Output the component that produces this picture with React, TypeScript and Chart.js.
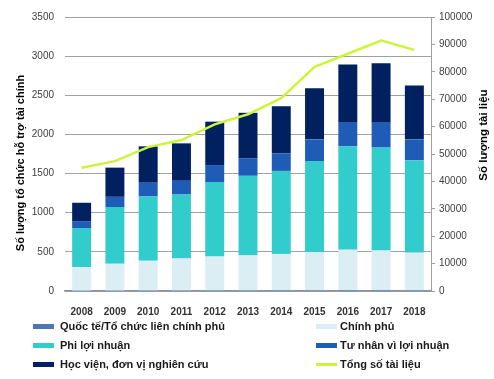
import React, { useEffect, useRef } from "react";
import { Chart, registerables } from "chart.js";

Chart.register(...registerables);

const years = ["2008", "2009", "2010", "2011", "2012", "2013", "2014", "2015", "2016", "2017", "2018"];
const intlOrg = [6, 7, 8, 8, 9, 9, 10, 10, 11, 11, 10];
const government = [300, 341, 378, 407, 431, 446, 464, 485, 517, 505, 480];
const nonProfit = [499, 725, 821, 817, 951, 1016, 1060, 1165, 1320, 1316, 1178];
const forProfit = [88, 130, 176, 176, 218, 226, 226, 277, 302, 318, 269];
const academic = [234, 373, 465, 478, 554, 579, 600, 653, 742, 759, 687];
const totalDocs = [45000, 47400, 52500, 55100, 60800, 64500, 70400, 81800, 86600, 91400, 88000];

const leftTitle = "Số lượng tổ chức hỗ trợ tài chính";
const rightTitle = "Số lượng tài liệu";

const FONT = "'Liberation Sans', Arial, sans-serif";

const series = [
  { label: "Quốc tế/Tổ chức liên chính phủ", data: intlOrg, color: "#4a78b0" },
  { label: "Chính phủ", data: government, color: "#daeef3" },
  { label: "Phi lợi nhuận", data: nonProfit, color: "#33cccc" },
  { label: "Tư nhân vì lợi nhuận", data: forProfit, color: "#1f5cb8" },
  { label: "Học viện, đơn vị nghiên cứu", data: academic, color: "#002060" },
];
const lineLabel = "Tổng số tài liệu";
const lineColor = "#ccf53a";

const titlesPlugin = {
  id: "axisTitles",
  afterDraw(chart: any) {
    const ctx = chart.ctx;
    ctx.save();
    ctx.fillStyle = "#000";
    ctx.font = "bold 11px " + FONT;
    ctx.textAlign = "center";
    ctx.textBaseline = "middle";
    ctx.translate(21, 163);
    ctx.rotate(-Math.PI / 2);
    ctx.fillText(leftTitle, 0, 0);
    ctx.restore();
    ctx.save();
    ctx.fillStyle = "#000";
    ctx.font = "bold 11.5px " + FONT;
    ctx.textAlign = "center";
    ctx.textBaseline = "middle";
    ctx.translate(484, 135);
    ctx.rotate(-Math.PI / 2);
    ctx.fillText(rightTitle, 0, 0);
    ctx.restore();
  },
};

export default function App() {
  const ref = useRef<HTMLCanvasElement | null>(null);

  useEffect(() => {
    document.body.style.margin = "0";
    if (!ref.current) return;
    const datasets: any[] = series.map((s) => ({
      type: "bar",
      label: s.label,
      data: s.data,
      backgroundColor: s.color,
      borderWidth: 0,
      yAxisID: "y",
      stack: "s",
      order: 1,
      categoryPercentage: 0.57,
      barPercentage: 1,
    }));
    datasets.push({
      type: "line",
      label: lineLabel,
      data: totalDocs,
      borderColor: lineColor,
      backgroundColor: lineColor,
      borderWidth: 2.5,
      pointRadius: 0,
      tension: 0,
      yAxisID: "y2",
      order: 0,
    });
    const chart = new Chart(ref.current, {
      type: "bar",
      data: { labels: years, datasets },
      options: {
        animation: false,
        responsive: true,
        maintainAspectRatio: false,
        layout: { padding: { top: 13, bottom: 64, left: 0, right: 0 } },
        plugins: { legend: { display: false }, tooltip: { enabled: false } },
        scales: {
          x: {
            stacked: true,
            grid: { display: false },
            border: { display: true, color: "#8795a8", width: 1.5 },
            ticks: { color: "#333", font: { family: FONT, size: 10, weight: "bold" }, padding: 7 },
            afterFit: (s: any) => { s.height = 24; },
          },
          y: {
            stacked: true,
            position: "left",
            min: 0,
            max: 3500,
            ticks: {
              stepSize: 500,
              color: "#404040",
              font: { family: FONT, size: 10 },
              padding: 11,
              callback: (v: any) => String(v),
            },
            grid: { color: "#a0a0a0", lineWidth: 1, drawTicks: false },
            border: { display: false },
            afterFit: (s: any) => { s.width = 65; },
          },
          y2: {
            position: "right",
            min: 0,
            max: 100000,
            ticks: {
              stepSize: 10000,
              color: "#404040",
              font: { family: FONT, size: 10 },
              padding: 4,
              callback: (v: any) => String(v),
            },
            grid: { drawOnChartArea: false, color: "#a0a0a0", tickLength: 4 },
            border: { display: true, color: "#a0a0a0" },
            afterFit: (s: any) => { s.width = 63; },
          },
        },
      },
      plugins: [titlesPlugin],
    } as any);
    return () => chart.destroy();
  }, []);

  const legendItems = [
    { label: series[0].label, color: series[0].color, line: false },
    { label: series[1].label, color: series[1].color, line: false },
    { label: series[2].label, color: series[2].color, line: false },
    { label: series[3].label, color: series[3].color, line: false },
    { label: series[4].label, color: series[4].color, line: false },
    { label: lineLabel, color: lineColor, line: true },
  ];
  const rowsY = [326, 345, 364];

  return (
    <div style={{ position: "relative", width: 494, height: 379, background: "#fff" }}>
      <canvas ref={ref} />
      {legendItems.map((it, i) => {
        const col = i % 2;
        const row = Math.floor(i / 2);
        const sx = col === 0 ? 33 : 316;
        const tx = col === 0 ? 60 : 340;
        const y = rowsY[row];
        return (
          <React.Fragment key={it.label}>
            <div
              style={{
                position: "absolute",
                left: sx,
                top: y - (it.line ? 1 : 2.5),
                width: 21,
                height: it.line ? 2.5 : 5,
                background: it.color,
              }}
            />
            <div
              style={{
                position: "absolute",
                left: tx,
                top: y - 8,
                height: 16,
                lineHeight: "16px",
                fontFamily: FONT,
                fontWeight: "bold",
                fontSize: 11,
                color: "#1a1a1a",
                whiteSpace: "nowrap",
              }}
            >
              {it.label}
            </div>
          </React.Fragment>
        );
      })}
    </div>
  );
}
